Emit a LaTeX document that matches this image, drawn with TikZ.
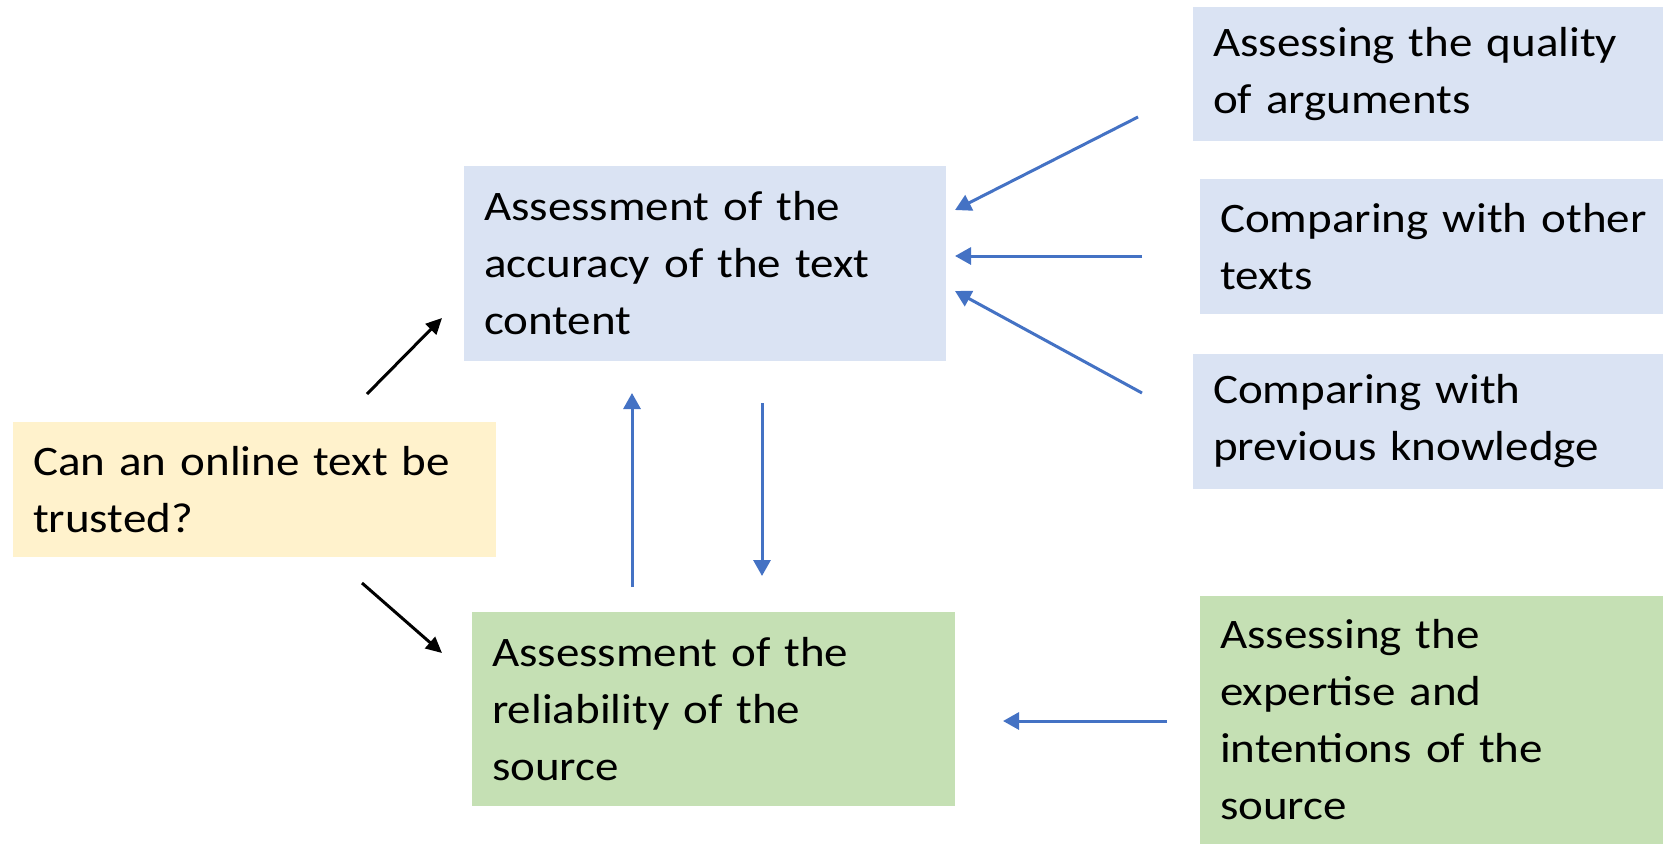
\documentclass[tikz,border=0pt]{standalone}
\usepackage{fontspec}
\setmainfont{Carlito}[FakeStretch=1.12]
\usepackage{tikz}
\usetikzlibrary{arrows.meta}

\definecolor{boxblue}{HTML}{DAE3F3}
\definecolor{boxgreen}{HTML}{C5E0B4}
\definecolor{boxyellow}{HTML}{FFF2CC}
\definecolor{arrowblue}{HTML}{4472C4}

\begin{document}
\begin{tikzpicture}[x=1pt, y=-1pt,
    box/.style={anchor=north west, inner xsep=20pt, inner ysep=0pt, outer sep=0pt, align=left,
        font={\fontsize{42}{57}\selectfont}},
    bluearrow/.style={arrowblue, line width=3pt, -{Triangle[length=16pt,width=17pt]}},
    blackarrow/.style={black, line width=3pt, -{Triangle[length=16pt,width=15pt]}}]
        \useasboundingbox (0,0) rectangle (1663,844);
        \node[box, fill=boxyellow, minimum width=483pt, minimum height=135pt, text width=443pt] (question) at (13, 422) {Can an online text be\\trusted?};
        \node[box, fill=boxblue, minimum width=482pt, minimum height=195pt, text width=442pt] (accuracy) at (464, 166) {Assessment of the\\accuracy of the text\\content};
        \node[box, fill=boxgreen, minimum width=483pt, minimum height=194pt, text width=443pt] (reliability) at (472, 612) {Assessment of the\\reliability of the\\source};
        \node[box, fill=boxblue, minimum width=470pt, minimum height=134pt, text width=430pt] (arguments) at (1193, 7) {\mbox{Assessing the quality}\\of arguments};
        \node[box, fill=boxblue, minimum width=463pt, minimum height=135pt, text width=423pt] (othertexts) at (1200, 179) {\mbox{Comparing with other}\\texts};
        \node[box, fill=boxblue, minimum width=470pt, minimum height=135pt, text width=430pt] (knowledge) at (1193, 354) {Comparing with\\previous knowledge};
        \node[box, fill=boxgreen, minimum width=463pt, minimum height=248pt, text width=423pt] (expertise) at (1200, 596) {Assessing the\\expertise and\\intentions of the\\source};
        \coordinate (qup) at (367, 394);
        \coordinate (accin) at (442, 318);
        \coordinate (qdown) at (362, 583);
        \coordinate (relin) at (442, 653);
        \coordinate (relup) at (632, 587);
        \coordinate (accupin) at (632, 393);
        \coordinate (accdown) at (762, 403);
        \coordinate (reldownin) at (762, 576);
        \coordinate (argout) at (1138, 117);
        \coordinate (argin) at (955, 210);
        \coordinate (otherout) at (1142, 256);
        \coordinate (otherin) at (955, 256);
        \coordinate (knowout) at (1142, 393);
        \coordinate (knowin) at (955, 291);
        \coordinate (expout) at (1167, 721);
        \coordinate (expin) at (1003, 721);
        \draw[blackarrow] (qup) -- (accin);
        \draw[blackarrow] (qdown) -- (relin);
        \draw[bluearrow] (relup) -- (accupin);
        \draw[bluearrow] (accdown) -- (reldownin);
        \draw[bluearrow] (argout) -- (argin);
        \draw[bluearrow] (otherout) -- (otherin);
        \draw[bluearrow] (knowout) -- (knowin);
        \draw[bluearrow] (expout) -- (expin);
    \end{tikzpicture}
\end{document}
